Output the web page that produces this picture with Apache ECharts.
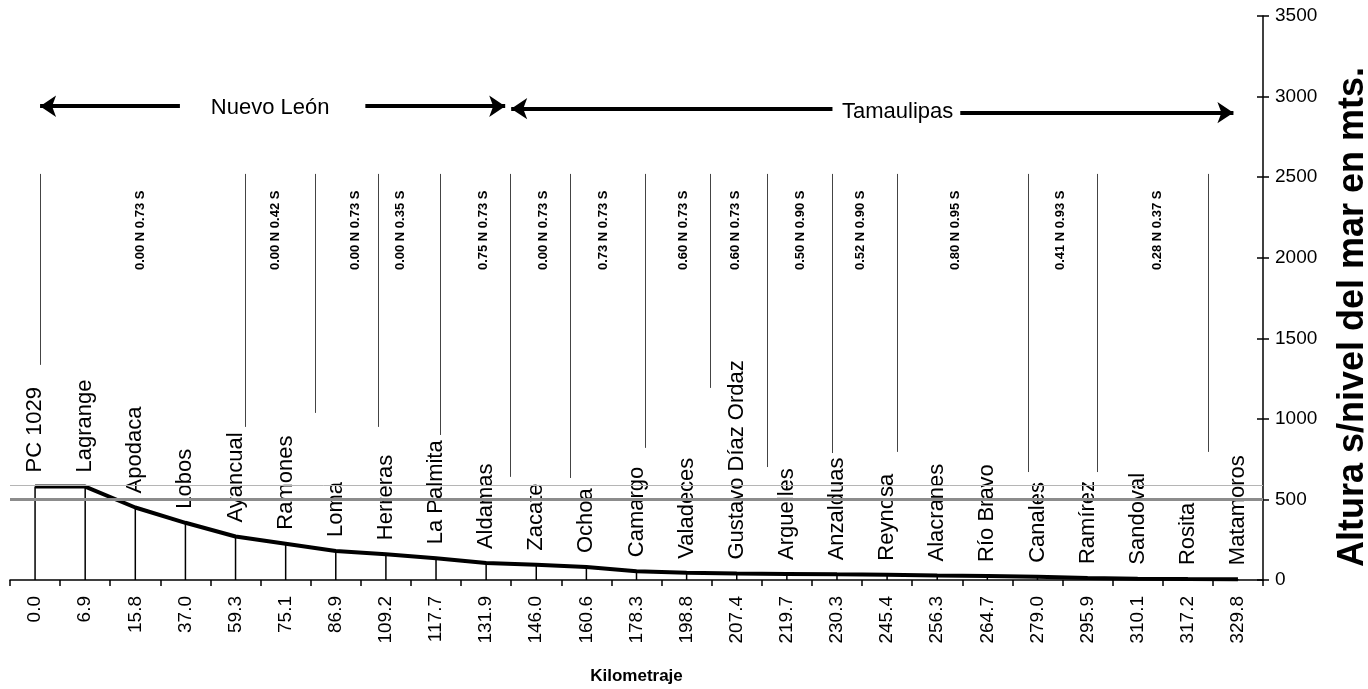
<!DOCTYPE html>
<html>
<head>
<meta charset="utf-8">
<script src="https://cdn.jsdelivr.net/npm/echarts@6/dist/echarts.min.js"></script>
<style>
html,body{margin:0;padding:0;background:#fff;}
#perfil{width:1368px;height:689px;}
</style>
</head>
<body>
<div id="perfil"></div>
<script>
// kilometraje de cada estacion (eje x)
var kilometraje = ['0.0','6.9','15.8','37.0','59.3','75.1','86.9','109.2','117.7','131.9','146.0','160.6','178.3','198.8','207.4','219.7','230.3','245.4','256.3','264.7','279.0','295.9','310.1','317.2','329.8'];
var estaciones = ['PC 1029','Lagrange','Apodaca','Lobos','Ayancual','Ramones','Loma','Herreras','La Palmita','Aldamas','Zacate','Ochoa','Camargo','Valadeces','Gustavo Díaz Ordaz','Arguelles','Anzalduas','Reynosa','Alacranes','Río Bravo','Canales','Ramírez','Sandoval','Rosita','Matamoros'];
// altura s/nivel del mar (m)
var altura = [580,580,450,355,270,225,180,160,135,105,95,80,55,45,40,38,35,33,28,25,20,12,8,6,5];

// pendientes por tramo (texto vertical arriba) y su posicion en unidades de estacion
var pendientes = ['0.00 N 0.73 S','0.00 N 0.42 S','0.00 N 0.73 S','0.00 N 0.35 S','0.75 N 0.73 S','0.00 N 0.73 S','0.73 N 0.73 S','0.60 N 0.73 S','0.60 N 0.73 S','0.50 N 0.90 S','0.52 N 0.90 S','0.80 N 0.95 S','0.41 N 0.93 S','0.28 N 0.37 S'];
var pendientesX = [2.10,4.79,6.39,7.29,8.94,10.14,11.34,12.93,13.97,15.27,16.47,18.36,20.46,22.40];
var pendientesY = 2170;

// lineas divisorias de tramos
var divisionesX = [0.10,4.19,5.59,6.85,8.08,9.48,10.68,12.18,13.47,14.61,15.91,17.21,19.82,21.20,23.41];
var divisionesFin = [1335,950,1037,950,900,640,633,820,1192,701,788,795,670,670,795];
var divisionesIni = 2520;

// estados con sus flechas
var estados = ['Nuevo León','Tamaulipas'];
var estadosX = [4.69,17.21];
var estadosY = [2930,2905];
var flechas = [[2.89,0.10,2940],[6.59,9.38,2940],[15.91,9.50,2925],[18.46,23.91,2900]];

var niveles = [500,590];

var chart = echarts.init(document.getElementById('perfil'));

var arial = "'Liberation Sans',Arial,sans-serif";
var oculto = 'rgba(0,0,0,0)';

var option = {
  backgroundColor: '#fff',
  animation: false,
  grid: {left: 10, right: 105, top: 16, bottom: 109, outerBoundsMode: 'none', containLabel: false},
  xAxis: [{
    type: 'category',
    data: kilometraje,
    boundaryGap: true,
    name: 'Kilometraje',
    nameLocation: 'middle',
    nameGap: 88,
    nameTextStyle: {fontFamily: arial, fontSize: 17, fontWeight: 'bold', color: '#000'},
    axisLine: {lineStyle: {color: '#000', width: 1.5}},
    axisTick: {show: true, length: 6, lineStyle: {color: '#000', width: 1.5}},
    axisLabel: {rotate: 90, margin: 16, fontFamily: arial, fontSize: 19, color: '#000'},
    splitLine: {show: false}
  }, {
    type: 'value',
    min: -0.5,
    max: 24.5,
    show: false
  }],
  yAxis: [{
    type: 'value',
    position: 'right',
    min: 0,
    max: 3500,
    interval: 500,
    name: 'Altura s/nivel del mar en mts.',
    nameLocation: 'middle',
    nameRotate: 90,
    nameGap: 72,
    nameTextStyle: {fontFamily: arial, fontSize: 36, fontWeight: 'bold', color: '#000', padding: [0, 38, 0, 0]},
    axisLine: {show: true, onZero: false, lineStyle: {color: '#000', width: 1.5}},
    axisTick: {show: true, length: 6, lineStyle: {color: '#000', width: 1.5}},
    axisLabel: {margin: 12, fontFamily: arial, fontSize: 19, color: '#000', formatter: function (v) { return String(v); }},
    splitLine: {show: false}
  }, {
    type: 'value',
    position: 'right',
    min: 0,
    max: 3500,
    interval: 500,
    axisLine: {show: false, onZero: false},
    axisTick: {show: true, inside: true, length: 6, lineStyle: {color: '#000', width: 1.5}},
    axisLabel: {show: false},
    splitLine: {show: false}
  }],
  series: [{
    type: 'bar',
    data: altura,
    barWidth: 1.5,
    itemStyle: {color: '#000'},
    label: {
      show: true,
      position: 'top',
      rotate: 90,
      align: 'left',
      verticalAlign: 'middle',
      distance: 14,
      fontFamily: arial,
      fontSize: 22,
      color: '#000',
      formatter: function (p) { return estaciones[p.dataIndex]; }
    },
    z: 3
  }, {
    type: 'line',
    data: altura,
    symbol: 'none',
    lineStyle: {color: '#000', width: 4},
    z: 4,
    markLine: {
      silent: true,
      symbol: 'none',
      label: {show: false},
      data: niveles.map(function (v, i) {
        return {yAxis: v, lineStyle: {color: i === 0 ? '#8c8c8c' : '#b5b5b5', width: i === 0 ? 3 : 1, type: 'solid'}};
      })
    }
  }, {
    type: 'lines',
    coordinateSystem: 'cartesian2d',
    xAxisIndex: 1,
    yAxisIndex: 0,
    lineStyle: {color: '#444', width: 1, opacity: 1},
    data: divisionesX.map(function (x, i) {
      return {coords: [[x, divisionesIni], [x, divisionesFin[i]]]};
    })
  }, {
    type: 'lines',
    coordinateSystem: 'cartesian2d',
    xAxisIndex: 1,
    yAxisIndex: 0,
    symbol: ['none', 'arrow'],
    symbolSize: 16,
    lineStyle: {color: '#000', width: 4, opacity: 1},
    data: flechas.map(function (f) {
      return {coords: [[f[0], f[2]], [f[1], f[2]]]};
    })
  }, {
    type: 'scatter',
    xAxisIndex: 1,
    yAxisIndex: 0,
    symbolSize: 1,
    itemStyle: {color: oculto, opacity: 1},
    data: pendientesX.map(function (x) { return [x, pendientesY]; }),
    label: {
      show: true,
      position: 'inside',
      rotate: 90,
      align: 'center',
      verticalAlign: 'middle',
      fontFamily: arial,
      fontWeight: 'bold',
      fontSize: 13,
      color: '#000',
      textBorderWidth: 0,
      formatter: function (p) { return pendientes[p.dataIndex]; }
    }
  }, {
    type: 'scatter',
    xAxisIndex: 1,
    yAxisIndex: 0,
    symbolSize: 1,
    itemStyle: {color: oculto, opacity: 1},
    data: estadosX.map(function (x, i) { return [x, estadosY[i]]; }),
    label: {
      show: true,
      position: 'inside',
      align: 'center',
      verticalAlign: 'middle',
      fontFamily: arial,
      fontSize: 22,
      color: '#000',
      textBorderWidth: 0,
      formatter: function (p) { return estados[p.dataIndex]; }
    }
  }]
};

chart.setOption(option);
</script>
</body>
</html>
